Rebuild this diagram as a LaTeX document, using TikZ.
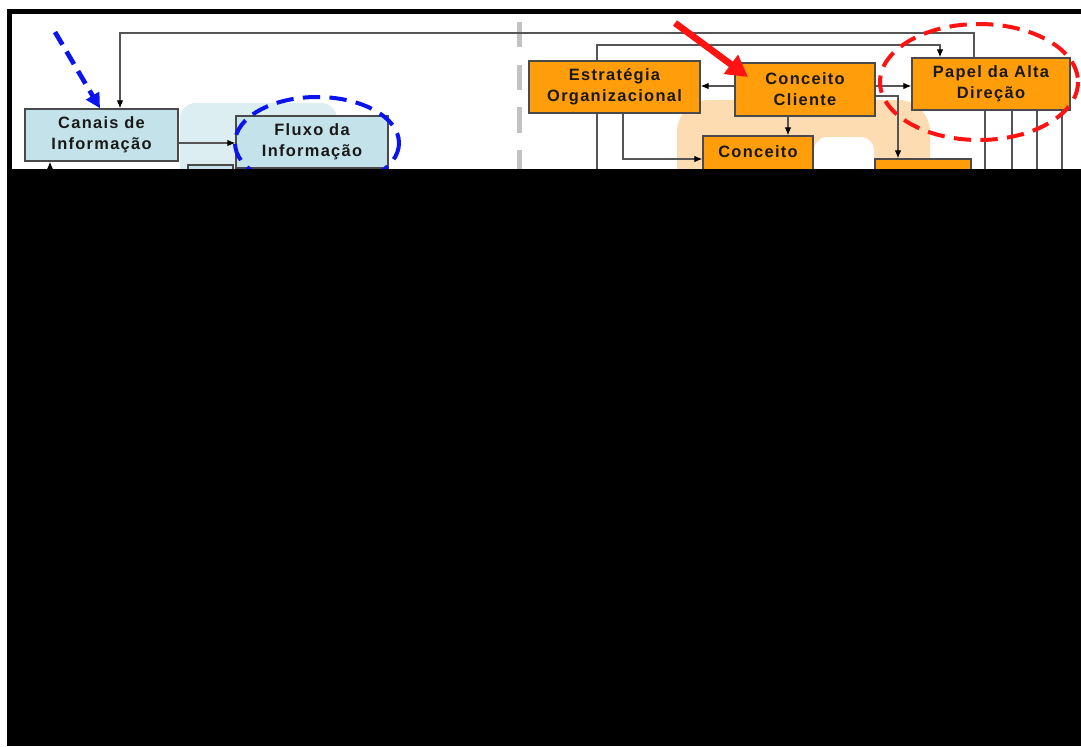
\documentclass[tikz,border=0pt]{standalone}
\usepackage{fontspec}
\newfontfamily\boxfont[LetterSpace=8]{Liberation Sans}
\usetikzlibrary{arrows.meta,positioning}
\definecolor{boxBlue}{HTML}{C3E2EA}
\definecolor{boxOrange}{HTML}{FF9D0A}
\definecolor{boxEdge}{HTML}{4A4A4A}
\definecolor{lineGray}{HTML}{555555}
\definecolor{divGray}{HTML}{C2C2C2}
\definecolor{tabBlue}{HTML}{DCEEF2}
\definecolor{tabOrange}{HTML}{FDDCB2}
\definecolor{markBlue}{HTML}{0A14F0}
\definecolor{markRed}{HTML}{FF1212}
\newcommand{\pxu}{0.75pt}
\tikzset{
  box/.style={draw=boxEdge, line width=1.1pt, inner sep=0pt, align=center,
    font=\boxfont\bfseries\fontsize{12.3}{15.7}\selectfont, text=black!90},
  bluebox/.style={box, fill=boxBlue},
  orangebox/.style={box, fill=boxOrange},
  conn/.style={draw=lineGray, line width=0.8pt},
  arr/.style={conn, -{Latex[length=6pt,width=5pt,color=black]}},
  ringmark/.style={line width=3pt, dash pattern=on 13pt off 7pt},
}

\begin{document}
\begin{tikzpicture}[x=0.75pt,y=-0.75pt]
  \useasboundingbox (0,0) rectangle (1081,746);
  \fill[white] (0,0) rectangle (1081,746);

  % background shapes
  \fill[tabBlue, rounded corners=12pt] (180,103) rectangle (337,220);
  \fill[tabOrange, rounded corners=24pt] (677,100) rectangle (930,220);
  \fill[white, rounded corners=10pt] (814,137) rectangle (874,220);

  % divider
  \draw[divGray, line width=3.75pt, dash pattern=on 19pt off 13pt] (519,22) -- (519,170);

  % boxes
  \node[bluebox, minimum width=153*\pxu, minimum height=52*\pxu] (canais) at (101.5,135) {Canais de\\Informação};
  \node[bluebox, minimum width=152*\pxu, minimum height=52*\pxu] (fluxo) at (312,142) {Fluxo da\\Informação};
  \node[bluebox, minimum width=45*\pxu, minimum height=52*\pxu] (sub) at (210.5,191) {};
  \node[orangebox, minimum width=171*\pxu, minimum height=52*\pxu] (estr) at (614.5,87) {Estratégia\\Organizacional};
  \node[orangebox, minimum width=140*\pxu, minimum height=53*\pxu] (cli) at (805,89.5) {Conceito\\Cliente};
  \node[orangebox, minimum width=158*\pxu, minimum height=52*\pxu] (papel) at (991,84) {Papel da Alta\\Direção};
  \node[orangebox, minimum width=110*\pxu, minimum height=52*\pxu] (conc) at (758,162) {Conceito\\\phantom{X}};
  \node[orangebox, minimum width=96*\pxu, minimum height=52*\pxu] (ctrl) at (923,185) {};

  % free ends below the cut
  \coordinate (canaisIn) at (50,180);
  \coordinate (estrOut) at (597,180);

  % connectors
  \draw[arr] (canais.east |- 0,143) -- (fluxo.west |- 0,143);
  \draw[arr] (974,0 |- papel.north) -- (974,33) -- (120,33) -- (120,0 |- canais.north);
  \draw[arr] (597,0 |- estr.north) -- (597,45) -- (940,45) -- (940,0 |- papel.north);
  \draw[arr] (cli.west |- 0,86) -- (estr.east |- 0,86);
  \draw[arr] (cli.east |- 0,86) -- (papel.west |- 0,86);
  \draw[arr] (788,0 |- cli.south) -- (788,0 |- conc.north);
  \draw[arr] (cli.east |- 0,96) -- (898,96) -- (898,0 |- ctrl.north);
  \draw[arr] (623,0 |- estr.south) -- (623,159) -- (conc.west |- 0,159);
  \draw[conn] (597,0 |- estr.south) -- (estrOut);
  \draw[arr] (canaisIn) -- (50,0 |- canais.south);
  \foreach \lx in {985,1012,1037,1062}
    \draw[conn] (\lx,0 |- papel.south) -- (\lx,180);

  % highlight marks
  \draw[markBlue, ringmark] (317,143) ellipse (82 and 46);
  \draw[markRed, ringmark] (979,82) ellipse (99 and 58);
  \draw[markBlue, line width=3.5pt, dash pattern=on 11pt off 6pt,
    -{Triangle[length=11pt,width=11pt]}] (55,32) -- (canais.north -| 100,0);
  \draw[markRed, line width=5pt, -{Triangle[length=16pt,width=17pt]}] (675,23) -- (748,77);

  % black cover and frame
  \fill[black] (7,169) rectangle (1081,746);
  \fill[black] (7,9) rectangle (1081,14);
  \fill[black] (7,9) rectangle (12,169);
\end{tikzpicture}
\end{document}
